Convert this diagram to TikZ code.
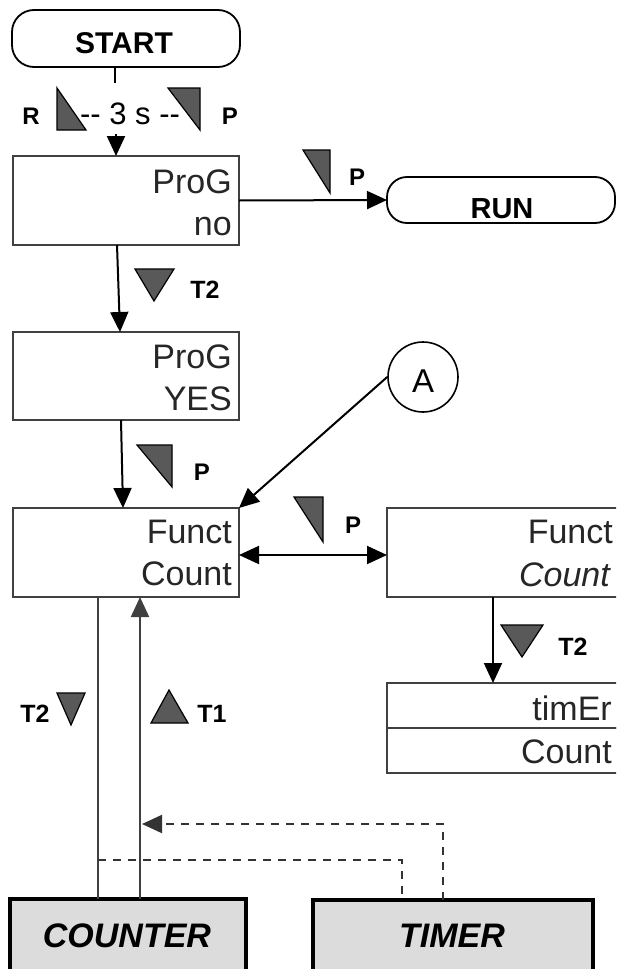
\documentclass[tikz,border=0pt]{standalone}
\usepackage{fontspec}
\setmainfont{Liberation Sans}
\usetikzlibrary{arrows.meta}
\definecolor{edgegray}{HTML}{404040}
\definecolor{markgray}{HTML}{595959}
\definecolor{blockfill}{HTML}{DCDCDC}
\begin{document}
\begin{tikzpicture}[x=1pt,y=-1pt,
  box/.style={rectangle, draw=edgegray, line width=1.6pt, inner sep=0pt, outer sep=0pt,
    minimum width=226pt, minimum height=89pt},
  rbox/.style={box, minimum width=233pt},
  term/.style={rectangle, draw=black, line width=1.8pt, inner sep=0pt, outer sep=0pt},
  block/.style={rectangle, draw=black, fill=blockfill, line width=4pt, inner sep=0pt, outer sep=0pt,
    minimum height=90pt},
  boxtxt/.style={font=\fontsize{34}{38}\selectfont, text=black!85, inner sep=0pt, anchor=base east},
  keylbl/.style={font=\bfseries\fontsize{24}{28}\selectfont, inner sep=0pt, anchor=base},
  tlbl/.style={font=\bfseries\fontsize{25}{28}\selectfont, inner sep=0pt, anchor=base},
  marker/.style={fill=markgray, draw=black, line width=1.2pt},
  arr/.style={line width=2pt, -{Triangle[length=20pt,width=18pt]}},
  darr/.style={line width=2pt, {Triangle[length=20pt,width=18pt]}-{Triangle[length=20pt,width=18pt]}},
  wire/.style={line width=2pt, draw=edgegray},
  dline/.style={line width=2pt, draw=black!80, dash pattern=on 8pt off 7pt}
]
\useasboundingbox (0,0) rectangle (616,969);
\clip (0,0) rectangle (616,969);

% ---- terminals ----
\node[term, rounded corners=22pt, minimum width=228pt, minimum height=57pt] (start) at (126,38.5) {};
\node[font=\bfseries\fontsize{30}{34}\selectfont, inner sep=0pt, anchor=base] (starttxt) at (124,53) {START};
\node[term, rounded corners=20pt, minimum width=228pt, minimum height=46pt] (run) at (501,200) {};
\node[font=\bfseries\fontsize{29}{32}\selectfont, inner sep=0pt, anchor=base] (runtxt) at (502,218) {RUN};

% ---- menu boxes ----
\node[box] (progno) at (126,200.5) {};
\node[boxtxt] (prognoA) at (232,193) {ProG};
\node[boxtxt] (prognoB) at (232,235) {no};

\node[box, minimum height=88pt] (progyes) at (126,376) {};
\node[boxtxt] (progyesA) at (232,368) {ProG};
\node[boxtxt] (progyesB) at (232,410) {YES};

\node[box] (funct) at (126,552.5) {};
\node[boxtxt] (functA) at (232,543) {Funct};
\node[boxtxt] (functB) at (232,585) {Count};

\node[rbox] (functr) at (503.5,552.5) {};
\node[boxtxt] (functrA) at (613,543) {Funct};
\node[boxtxt] (functrB) at (610,586) {\itshape Count};

\node[rbox, minimum height=45pt] (timrow) at (503.5,705.5) {};
\node[rbox, minimum height=45pt] (cntrow) at (503.5,750.5) {};
\node[boxtxt] (timrowtxt) at (612,720) {timEr};
\node[boxtxt] (cntrowtxt) at (612,763) {Count};

\node[circle, draw=black, line width=1.6pt, minimum size=70pt, inner sep=0pt] (A) at (423,377) {};
\node[font=\fontsize{33}{36}\selectfont, inner sep=0pt, anchor=base] (Atxt) at (423,392) {A};

% ---- hardware blocks ----
\node[block, minimum width=236pt] (counter) at (128,944) {};
\node[font=\bfseries\itshape\fontsize{34}{38}\selectfont, inner sep=0pt, anchor=base] (countertxt) at (127,947) {COUNTER};
\node[block, minimum width=280pt] (timer) at (453,945) {};
\node[font=\bfseries\itshape\fontsize{34}{38}\selectfont, inner sep=0pt, anchor=base] (timertxt) at (452,947) {TIMER};

% ---- key markers (pressed / released) ----
\draw[marker] (57,88) -- (57,130) -- (86,130) -- cycle;
\draw[marker] (168,88) -- (200,88) -- (200,130) -- cycle;
\draw[marker] (303,150) -- (330,150) -- (330,193) -- cycle;
\draw[marker] (135,269) -- (174,269) -- (154,301) -- cycle;
\draw[marker] (137,445) -- (172,445) -- (172,487) -- cycle;
\draw[marker] (294,497) -- (323,497) -- (323,542) -- cycle;
\draw[marker] (501,625) -- (543,625) -- (522,657) -- cycle;
\draw[marker] (57,693) -- (85,693) -- (71,725) -- cycle;
\draw[marker] (151,723) -- (188,723) -- (169,690) -- cycle;

% ---- key labels ----
\node[keylbl] (kR) at (31,124) {R};
\node[font=\fontsize{31}{34}\selectfont, inner sep=0pt, anchor=base] (hold) at (130,124) {-{}- 3 s -{}-};
\node[keylbl] (kP1) at (230,124) {P};
\node[keylbl] (kP2) at (357,185) {P};
\node[tlbl] (kT2a) at (205,298) {T2};
\node[keylbl] (kP3) at (202,480) {P};
\node[keylbl] (kP4) at (353,533) {P};
\node[tlbl] (kT2b) at (573,655) {T2};
\node[tlbl] (kT2c) at (35,722) {T2};
\node[tlbl] (kT1) at (212,722) {T1};

% ---- connectors ----
\coordinate (stem) at (115,83);
\coordinate (stemhead) at (116,134);
\draw[line width=2pt] (start.south -| stem) -- (stem);
\draw[arr] (stemhead) -- (progno.north -| stemhead);
\draw[arr] (progno.east) -- (run.west);
\draw[arr] ([xshift=-9pt]progno.south) -- ([xshift=-6pt]progyes.north);
\draw[arr] ([xshift=-5pt]progyes.south) -- ([xshift=-3pt]funct.north);
\draw[arr] (A.west) -- (funct.north east);
\draw[darr] ([yshift=-2.5pt]funct.east) -- ([yshift=-2.5pt]functr.west);
\draw[arr] ([xshift=-10.5pt]functr.south) -- ([xshift=-10.5pt]timrow.north);

\draw[wire] ([xshift=-28pt]funct.south) -- ([xshift=-30pt]counter.north);
\draw[wire, -{Triangle[length=20pt,width=18pt]}] ([xshift=12pt]counter.north) -- ([xshift=14pt]funct.south);

\coordinate (dtip) at (142,824);
\coordinate (dleft) at (98,860);
\draw[dline, -{Triangle[length=20pt,width=18pt]}] ([xshift=-10pt]timer.north) |- (dtip);
\draw[dline] (dleft) -| ([xshift=-51pt]timer.north);
\end{tikzpicture}
\end{document}
